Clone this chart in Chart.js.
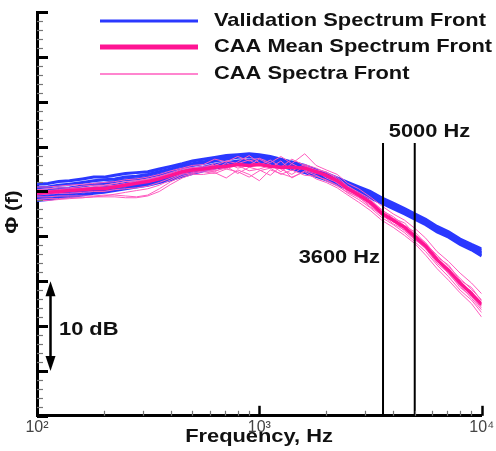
<!DOCTYPE html>
<html>
<head>
<meta charset="utf-8">
<script src="https://cdn.jsdelivr.net/npm/chart.js@4.4.1/dist/chart.umd.min.js"></script>
<style>
  html, body { margin: 0; padding: 0; background: #fff; }
  #wrap { width: 496px; height: 451px; }
</style>
</head>
<body>
<div id="wrap"><canvas id="myChart" width="496" height="451"></canvas></div>
<script>
// frequencies (Hz) shared by all spectra
const freqs = [100, 112, 125, 140, 160, 180, 200, 224, 250, 280, 315, 355, 400, 450, 500, 560, 630, 710, 800, 900,
  1000, 1120, 1250, 1400, 1600, 1800, 2000, 2240, 2500, 2800, 3150, 3550, 4000, 4500, 5000, 5600, 6300, 7100, 8000, 9000, 10000];

// validation spectra (blue bundle), dB
const valid1 = [25.8,25.9,26.1,26.2,26.4,26.6,26.6,26.8,27.0,27.1,27.2,27.5,27.8,28.1,28.4,28.6,28.8,29.0,29.1,29.2,29.1,28.9,28.6,28.3,27.9,27.4,27.0,26.5,26.0,25.5,25.0,24.3,23.7,23.1,22.5,21.9,21.1,20.5,19.7,19.1,18.6];
const valid2 = [25.4,25.5,25.7,25.8,26.0,26.2,26.3,26.4,26.6,26.7,26.9,27.2,27.5,27.9,28.1,28.3,28.6,28.8,29.0,29.0,28.9,28.7,28.4,28.1,27.7,27.2,26.9,26.4,25.9,25.4,24.9,24.2,23.6,22.9,22.4,21.8,20.9,20.4,19.6,18.9,18.4];
const valid3 = [25.0,25.1,25.3,25.4,25.6,25.8,25.9,26.1,26.3,26.4,26.6,26.9,27.2,27.6,27.9,28.1,28.4,28.6,28.8,28.9,28.8,28.6,28.3,28.0,27.6,27.1,26.8,26.3,25.8,25.3,24.8,24.1,23.5,22.8,22.2,21.7,20.8,20.3,19.4,18.9,18.2];
const valid4 = [24.6,24.7,24.9,25.0,25.2,25.4,25.5,25.7,25.9,26.0,26.2,26.5,26.8,27.2,27.5,27.7,28.0,28.2,28.4,28.5,28.5,28.3,28.0,27.7,27.3,26.9,26.5,26.0,25.6,25.1,24.6,23.9,23.3,22.7,22.1,21.5,20.7,20.1,19.3,18.7,18.1];
const valid5 = [24.3,24.4,24.6,24.7,24.9,25.1,25.2,25.4,25.6,25.7,25.9,26.2,26.5,26.9,27.2,27.4,27.7,27.9,28.2,28.3,28.3,28.1,27.9,27.6,27.2,26.8,26.4,25.9,25.4,24.9,24.4,23.8,23.2,22.6,22.0,21.4,20.6,20.0,19.2,18.6,17.9];
const valid6 = [24.0,24.1,24.3,24.4,24.6,24.8,24.9,25.1,25.3,25.5,25.7,26.0,26.3,26.7,27.0,27.3,27.6,27.8,28.1,28.2,28.2,28.0,27.8,27.5,27.1,26.7,26.3,25.8,25.3,24.8,24.3,23.7,23.1,22.5,21.9,21.3,20.5,19.9,19.1,18.5,17.8];

// CAA mean spectrum
const caaMean = [24.8,24.9,25.0,25.1,25.2,25.3,25.3,25.5,25.7,25.9,26.1,26.4,26.8,27.2,27.4,27.5,27.7,27.8,28.0,27.9,28.0,27.8,27.7,27.7,27.6,27.2,26.8,26.2,25.3,24.6,23.8,22.6,21.8,21.0,20.0,18.9,17.4,16.2,14.8,13.6,12.4];

// individual CAA spectra
const caa1 = [25.5,25.5,25.6,25.7,25.8,25.9,26.0,26.1,26.3,26.4,26.6,26.9,27.3,27.6,27.9,28.0,28.6,28.3,28.9,28.4,28.7,28.2,28.9,28.1,29.2,27.9,27.4,26.9,25.9,25.3,24.4,23.4,22.5,21.8,20.9,19.8,18.3,17.2,15.9,14.8,13.6];
const caa2 = [25.2,25.3,25.4,25.4,25.6,25.7,25.7,25.9,26.1,26.2,26.4,26.7,27.1,27.5,27.7,27.6,28.1,27.5,28.3,29.0,28.2,27.6,28.4,27.3,28.0,27.6,27.1,26.6,25.6,24.9,24.2,22.9,22.2,21.2,20.5,19.2,17.9,16.6,15.3,14.1,12.9];
const caa3 = [24.9,25.0,25.1,25.2,25.3,25.4,25.4,25.6,25.8,26.0,26.2,26.5,26.9,27.3,27.2,27.6,27.4,28.2,27.6,27.9,28.6,28.0,27.2,28.1,27.4,27.0,26.9,25.9,25.1,24.7,23.6,22.7,21.6,21.2,19.8,19.1,17.2,16.4,14.6,13.9,12.2];
const caa4 = [24.6,24.7,24.8,24.8,24.9,25.0,25.0,25.2,25.3,25.4,25.6,26.0,26.5,27.0,27.3,27.4,27.3,27.6,27.9,27.3,27.5,27.9,27.5,26.9,27.8,27.3,26.5,26.0,25.0,24.3,23.5,22.3,21.7,20.6,19.7,18.6,17.0,15.9,14.3,13.3,12.0];
const caa5 = [24.4,24.4,24.5,24.5,24.5,24.5,24.6,24.6,24.5,24.4,24.6,25.3,26.1,26.7,27.0,27.2,27.0,27.5,27.2,26.6,27.3,27.6,26.9,27.4,26.8,26.7,26.3,25.7,24.8,24.1,23.2,22.1,21.3,20.4,19.4,18.3,16.8,15.5,14.0,12.9,11.5];
const caa6 = [24.1,24.2,24.2,24.3,24.3,24.4,24.4,24.4,24.3,24.3,24.5,25.0,25.8,26.5,26.9,26.9,27.1,26.5,27.4,26.9,26.2,27.4,27.0,26.6,27.2,26.4,26.0,25.4,24.6,23.8,22.9,21.8,21.0,20.1,19.2,17.9,16.4,15.1,13.7,12.5,11.0];
const caa7 = [24.0,24.0,24.1,24.2,24.3,24.4,24.5,24.7,24.9,25.1,25.3,25.7,26.3,26.9,27.1,27.3,27.2,27.8,27.0,27.7,27.4,26.8,27.8,26.5,27.3,26.8,26.2,25.6,24.9,24.4,23.3,22.4,21.4,20.7,19.6,18.8,17.3,15.8,14.5,13.1,11.8];
const caa8 = [25.0,25.1,25.2,25.3,25.4,25.5,25.6,25.7,25.9,26.1,26.3,26.6,27.0,27.3,27.6,27.8,27.9,28.4,28.1,28.5,27.9,28.5,27.7,28.6,27.9,27.4,27.2,26.4,25.5,24.8,24.0,23.0,22.0,21.5,20.2,19.3,17.7,16.8,15.1,14.3,12.8];

// marker frequencies and the level where their lines stop
const markFreqs = [3600, 5000];
const markTop = 30.4;

const xTickLabels = { 100: '10²', 1000: '10³', 10000: '10⁴' };

const BLUE = '#2a38ff';
const PINK = '#ff1493';
const PINK_THIN = '#ff5cbf';

const toXY = vals => freqs.map((f, i) => ({ x: f, y: vals[i] }));

const datasets = [];
[valid1, valid2, valid3, valid4, valid5, valid6].forEach(v => {
  datasets.push({ data: toXY(v), borderColor: BLUE, borderWidth: 3, order: 3 });
});
[caa1, caa2, caa3, caa4, caa5, caa6, caa7, caa8].forEach(v => {
  datasets.push({ data: toXY(v), borderColor: PINK_THIN, borderWidth: 1, order: 2 });
});
datasets.push({ data: toXY(caaMean), borderColor: PINK, borderWidth: 3.5, order: 1 });
markFreqs.forEach(f => {
  datasets.push({ data: [{ x: f, y: 0 }, { x: f, y: markTop }], borderColor: '#000', borderWidth: 2, order: 0 });
});

// text drawn a bit wider than tall, like the original export
function wideText(ctx, txt, x, y, size, align) {
  ctx.save();
  ctx.font = 'bold ' + size + 'px "Liberation Sans", Arial, sans-serif';
  ctx.fillStyle = '#111';
  ctx.textBaseline = 'middle';
  const w = ctx.measureText(txt).width * 1.15;
  let x0 = x;
  if (align === 'right') x0 = x - w;
  if (align === 'center') x0 = x - w / 2;
  ctx.translate(x0, y);
  ctx.scale(1.15, 1);
  ctx.textAlign = 'left';
  ctx.fillText(txt, 0, 0);
  ctx.restore();
}

const decorations = {
  id: 'decorations',
  afterDraw(chart) {
    const ctx = chart.ctx;
    const xs = chart.scales.x, ys = chart.scales.y;
    const area = chart.chartArea;

    // inward ticks on the left axis
    ctx.save();
    for (let v = 0; v <= 45; v++) {
      const py = Math.round(ys.getPixelForValue(v)) + 0.5;
      const major = v % 5 === 0;
      ctx.strokeStyle = major ? '#000' : '#777';
      ctx.lineWidth = major ? 3 : 1.2;
      ctx.beginPath();
      ctx.moveTo(area.left, py);
      ctx.lineTo(area.left + (major ? 11 : 6), py);
      ctx.stroke();
    }
    // inward ticks on the bottom axis
    [200, 300, 400, 500, 600, 700, 800, 900, 1000, 2000, 3000, 4000, 5000, 6000, 7000, 8000, 9000, 10000].forEach(f => {
      const px = Math.round(xs.getPixelForValue(f)) + 0.5;
      const major = f === 1000 || f === 10000;
      ctx.strokeStyle = major ? '#000' : '#777';
      ctx.lineWidth = major ? 2.5 : 1.2;
      ctx.beginPath();
      ctx.moveTo(px, area.bottom);
      ctx.lineTo(px, area.bottom - (major ? 10 : 5));
      ctx.stroke();
    });
    ctx.restore();

    // legend
    const legend = [
      { label: 'Validation Spectrum Front', color: BLUE, width: 3, y: 21 },
      { label: 'CAA Mean Spectrum Front', color: PINK, width: 5, y: 47 },
      { label: 'CAA Spectra Front', color: PINK_THIN, width: 1.5, y: 74 }
    ];
    legend.forEach(item => {
      ctx.save();
      ctx.strokeStyle = item.color;
      ctx.lineWidth = item.width;
      ctx.beginPath();
      ctx.moveTo(100, item.y);
      ctx.lineTo(198, item.y);
      ctx.stroke();
      ctx.restore();
      wideText(ctx, item.label, 214, item.y, 19, 'left');
    });

    // annotations
    const x3600 = xs.getPixelForValue(3600);
    const x5000 = xs.getPixelForValue(5000);
    wideText(ctx, '5000 Hz', x5000 - 26, 132, 19, 'left');
    wideText(ctx, '3600 Hz', x3600 - 3, 258, 19, 'right');
    wideText(ctx, '10 dB', 59, 330, 19, 'left');
    wideText(ctx, 'Frequency, Hz', 259, 437, 19, 'center');

    // y title
    ctx.save();
    ctx.translate(13, 212);
    ctx.rotate(-Math.PI / 2);
    wideText(ctx, 'Φ (f)', 0, 0, 18, 'center');
    ctx.restore();

    // 10 dB arrow
    const ax = 50.5;
    const yTop = ys.getPixelForValue(15), yBot = ys.getPixelForValue(5);
    ctx.save();
    ctx.strokeStyle = '#000';
    ctx.fillStyle = '#000';
    ctx.lineWidth = 2.5;
    ctx.beginPath();
    ctx.moveTo(ax, yTop + 10);
    ctx.lineTo(ax, yBot - 10);
    ctx.stroke();
    ctx.beginPath();
    ctx.moveTo(ax, yTop);
    ctx.lineTo(ax - 5, yTop + 15);
    ctx.lineTo(ax + 5, yTop + 15);
    ctx.closePath();
    ctx.fill();
    ctx.beginPath();
    ctx.moveTo(ax, yBot);
    ctx.lineTo(ax - 5, yBot - 15);
    ctx.lineTo(ax + 5, yBot - 15);
    ctx.closePath();
    ctx.fill();
    ctx.restore();
  }
};

const ctx = document.getElementById('myChart').getContext('2d');
new Chart(ctx, {
  type: 'line',
  data: { datasets: datasets },
  options: {
    responsive: false,
    animation: false,
    events: [],
    layout: { padding: { left: 37, right: 14, top: 12, bottom: 12 } },
    elements: { point: { radius: 0 }, line: { tension: 0, fill: false } },
    plugins: {
      legend: { display: false },
      tooltip: { enabled: false },
      title: { display: false }
    },
    scales: {
      x: {
        type: 'logarithmic',
        min: 100,
        max: 10000,
        grid: { display: false, drawTicks: false },
        border: { display: true, color: '#000', width: 3 },
        afterBuildTicks: scale => {
          scale.ticks = [100, 1000, 10000].map(v => ({ value: v }));
        },
        ticks: {
          autoSkip: false,
          maxRotation: 0,
          padding: 2,
          color: '#444',
          font: { family: '"Liberation Sans", Arial, sans-serif', size: 16 },
          callback: v => xTickLabels[v] || ''
        }
      },
      y: {
        min: 0,
        max: 45,
        grid: { display: false, drawTicks: false },
        border: { display: true, color: '#000', width: 3 },
        ticks: { display: false }
      }
    }
  },
  plugins: [decorations]
});
</script>
</body>
</html>
